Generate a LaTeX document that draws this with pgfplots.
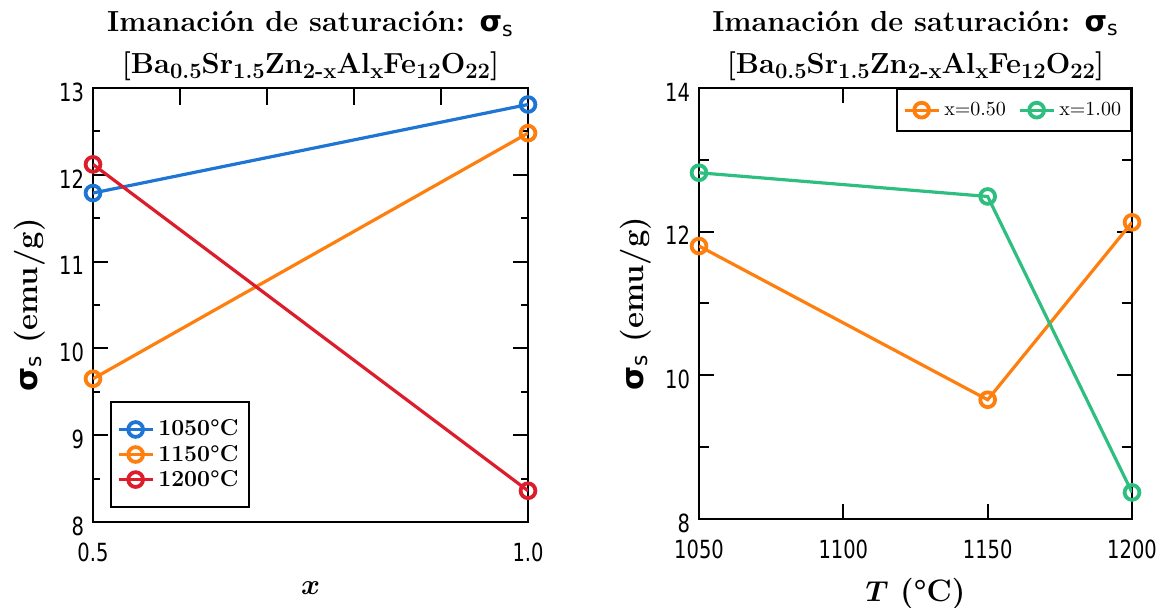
\documentclass[border=0pt]{standalone}
\usepackage{fontspec}
\usepackage{bm}
\usepackage{pgfplots}
\pgfplotsset{compat=1.18}
\newfontfamily\tickfont{DejaVu Sans}[FakeStretch=0.78]
\newfontfamily\sigfont{DejaVu Sans}
\definecolor{cblue}{RGB}{31,117,212}
\definecolor{corange}{RGB}{255,127,14}
\definecolor{cred}{RGB}{221,29,43}
\definecolor{cgreen}{RGB}{46,190,128}
\newcommand{\sig}{{\sigfont\bfseries σ}{\sigfont\mdseries\textsubscript{s}}}
\newcommand{\sub}[1]{\raisebox{-0.35ex}{\fontsize{11}{11}\selectfont #1}}
\newcommand{\ttl}{Imanación de saturación: \sig\\ {[}Ba\sub{0.5}Sr\sub{1.5}Zn\sub{2-x}Al\sub{x}Fe\sub{12}O\sub{22}{]}}
\pgfplotsset{
  mystyle/.style={
    scale only axis,
    axis line style={line width=1.2pt},
    tick align=inside,
    every tick/.style={black, line width=1pt},
    tick label style={font=\tickfont\fontsize{12.5}{13}\selectfont},
    xticklabel style={yshift=-7pt},
    yticklabel style={xshift=-1pt, yshift=-2pt},
    /pgf/number format/assume math mode=true,
    /pgf/number format/1000 sep={},
    title style={font=\bfseries\fontsize{14.5}{21}\selectfont, align=center, yshift=-6pt},
    label style={font=\bfseries\fontsize{15.5}{18}\selectfont},
    xlabel style={yshift=-3pt},
  },
  ser/.style={color=#1, line width=1.6pt, mark=o, mark size=3.7pt, mark options={line width=1.9pt, fill=white}},
}
\begin{document}
\begin{tikzpicture}[x=1pt,y=1pt]
\useasboundingbox (-46.5pt,-43pt) rectangle (536pt,261pt);
% ---------- left ----------
\begin{axis}[mystyle, at={(0pt,0pt)}, anchor=south west,
  width=217.5pt, height=217pt,
  xmin=0.5, xmax=1.0, ymin=8, ymax=13,
  xtick={0.5,1.0}, xticklabels={0.5,1.0}, xtick pos=left,
  ytick={8,9,10,11,12,13}, minor ytick={8.5,9.5,10.5,11.5,12.5}, ytick pos=both,
  major tick length=7.5pt, minor tick length=3.5pt,
  title={\ttl},
  xlabel={$\bm{x}$}, ylabel={\sig\ (emu/g)},
  legend style={at={(0.039,0.032)}, anchor=south west, draw=black, line width=1pt,
    font=\bfseries\fontsize{11.5}{13}\selectfont, row sep=-1pt, inner ysep=7pt},
  legend cell align=left]
\addplot[ser=cblue] coordinates {(0.5,11.79) (1.0,12.81)};
\addlegendentry{1050°C}
\addplot[ser=corange] coordinates {(0.5,9.65) (1.0,12.48)};
\addlegendentry{1150°C}
\addplot[ser=cred] coordinates {(0.5,12.12) (1.0,8.36)};
\addlegendentry{1200°C}
\end{axis}
\begin{axis}[scale only axis, at={(0pt,0pt)}, anchor=south west,
  width=217.5pt, height=217pt,
  xmin=0.5, xmax=1.0, ymin=8, ymax=13,
  axis line style={draw=none}, tick align=inside,
  every tick/.style={black, line width=1pt},
  xtick={0.6,0.7,0.8,0.9}, xticklabels={}, xtick pos=right,
  ytick=\empty, major tick length=8.5pt]
\end{axis}
% ---------- right ----------
\begin{axis}[mystyle, at={(303pt,1.5pt)}, anchor=south west,
  width=216.5pt, height=215.5pt,
  xmin=1050, xmax=1200, ymin=8, ymax=14,
  xtick={1050,1100,1150,1200}, xtick pos=both,
  ytick={8,10,12,14}, minor ytick={9,11,13}, ytick pos=both,
  major tick length=7.5pt, minor tick length=5pt,
  title={\ttl},
  xlabel={$\bm{T}$ (°C)}, ylabel={\sig\ (emu/g)},
  legend columns=2,
  legend style={at={(1,1)}, anchor=north east, draw=black, line width=1pt, fill=white,
    font=\fontsize{10}{12}\selectfont, inner ysep=4.5pt,
    /tikz/every even column/.append style={column sep=4pt}},
  legend cell align=left]
\addplot[ser=corange] coordinates {(1050,11.80) (1150,9.66) (1200,12.13)};
\addlegendentry{x=0.50}
\addplot[ser=cgreen] coordinates {(1050,12.82) (1150,12.49) (1200,8.37)};
\addlegendentry{x=1.00}
\end{axis}
\end{tikzpicture}
\end{document}
